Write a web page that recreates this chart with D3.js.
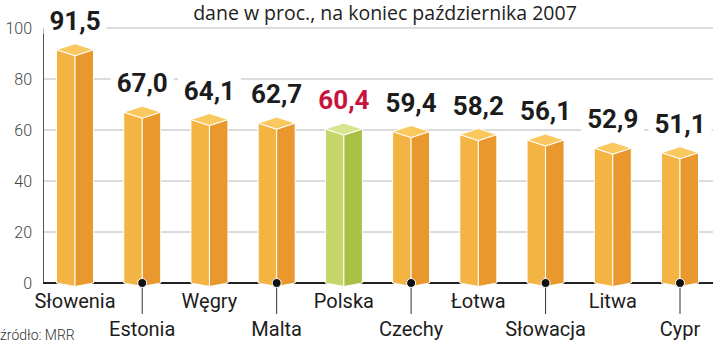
<!DOCTYPE html>
<html>
<head>
<meta charset="utf-8">
<script src="https://cdn.jsdelivr.net/npm/d3@7/dist/d3.min.js"></script>
<style>
  html, body { margin: 0; padding: 0; background: #fff; }
  svg { display: block; font-family: Roboto, "Open Sans", sans-serif; }
</style>
</head>
<body>
<svg id="chart" width="720" height="344"></svg>
<script>
// Udział środków UE — dane w proc., na koniec października 2007
const categories = ["Słowenia", "Estonia", "Węgry", "Malta", "Polska", "Czechy", "Łotwa", "Słowacja", "Litwa", "Cypr"];
const values = [91.5, 67.0, 64.1, 62.7, 60.4, 59.4, 58.2, 56.1, 52.9, 51.1];
const yTicks = [0, 20, 40, 60, 80, 100];
const highlight = "Polska";
const title = "dane w proc., na koniec października 2007";
const source = "źródło: MRR";

const svg = d3.select("#chart");

const y = d3.scaleLinear().domain([0, 100]).range([283, 28]);
const x = d3.scalePoint().domain(categories).range([75, 680]);

const axisX = 43, rightX = 713;
const halfW = 18.5, capD = 6, footD = 3.5;

const fmt = v => d3.format(".1f")(v).replace(".", ",");

const palette = {
  normal: { top: "#f9c95f", left: "#f3b443", right: "#e8982c" },
  hi:     { top: "#d9e48f", left: "#c6d66b", right: "#a9c047" }
};

// title
svg.append("text")
  .attr("x", 385).attr("y", 20)
  .attr("text-anchor", "middle")
  .attr("font-family", "'Open Sans', sans-serif")
  .attr("font-size", 19.5).attr("fill", "#222")
  .text(title);

// gridlines
const grid = svg.append("g");
grid.selectAll("line").data(yTicks.filter(t => t > 0)).join("line")
  .attr("x1", axisX).attr("x2", rightX)
  .attr("y1", d => y(d)).attr("y2", d => y(d))
  .attr("stroke", "#b8b8b8").attr("stroke-width", 1);

// y axis
const yAxis = d3.axisLeft(y).tickValues(yTicks).tickSize(0).tickPadding(11);
const ya = svg.append("g").attr("transform", `translate(${axisX},0)`).call(yAxis);
ya.select(".domain").attr("stroke", "#555").attr("stroke-width", 1);
ya.selectAll("text")
  .attr("font-family", "Roboto, sans-serif")
  .attr("font-size", 16).attr("font-weight", 300).attr("fill", "#444");

// value labels with white background, breaking gridlines
const labels = svg.append("g");
categories.forEach((c, i) => {
  const v = values[i];
  const g = labels.append("g");
  const t = g.append("text")
    .attr("x", x(c)).attr("y", y(v) - capD - 14)
    .attr("text-anchor", "middle")
    .attr("font-size", 26).attr("font-weight", 700)
    .attr("fill", c === highlight ? "#c8143c" : "#1c1c1c")
    .text(fmt(v));
  const bb = t.node().getBBox();
  g.insert("rect", "text")
    .attr("x", bb.x - 6).attr("y", bb.y + 2)
    .attr("width", bb.width + 12).attr("height", bb.height - 4)
    .attr("fill", "#fff");
});

// baseline
svg.append("line")
  .attr("x1", axisX).attr("x2", rightX)
  .attr("y1", y(0)).attr("y2", y(0))
  .attr("stroke", "#222").attr("stroke-width", 2);

// prism bars
const bars = svg.append("g");
categories.forEach((c, i) => {
  const v = values[i];
  const cx = x(c), yv = y(v), y0 = y(0);
  const col = c === highlight ? palette.hi : palette.normal;
  const g = bars.append("g").attr("stroke", "#fff").attr("stroke-width", 1).attr("stroke-linejoin", "round");
  g.append("polygon")
    .attr("points", [[cx - halfW, yv], [cx, yv + capD], [cx, y0 + footD], [cx - halfW, y0]].join(" "))
    .attr("fill", col.left);
  g.append("polygon")
    .attr("points", [[cx, yv + capD], [cx + halfW, yv], [cx + halfW, y0], [cx, y0 + footD]].join(" "))
    .attr("fill", col.right);
  g.append("polygon")
    .attr("points", [[cx - halfW, yv], [cx, yv - capD], [cx + halfW, yv], [cx, yv + capD]].join(" "))
    .attr("fill", col.top);
});

// category labels, staggered in two rows
const cats = svg.append("g");
categories.forEach((c, i) => {
  const cx = x(c);
  const lower = i % 2 === 1;
  if (lower) {
    cats.append("line")
      .attr("x1", cx).attr("x2", cx)
      .attr("y1", y(0)).attr("y2", 314)
      .attr("stroke", "#333").attr("stroke-width", 1);
    cats.append("circle")
      .attr("cx", cx).attr("cy", y(0)).attr("r", 4.5)
      .attr("fill", "#111").attr("stroke", "#fff").attr("stroke-width", 1);
  }
  cats.append("text")
    .attr("x", cx).attr("y", lower ? 336 : 308)
    .attr("text-anchor", "middle")
    .attr("font-size", 20).attr("fill", "#1c1c1c")
    .text(c);
});

// source
svg.append("text")
  .attr("x", 0).attr("y", 340)
  .attr("font-size", 14).attr("font-weight", 300).attr("fill", "#333")
  .text(source);
</script>
</body>
</html>
